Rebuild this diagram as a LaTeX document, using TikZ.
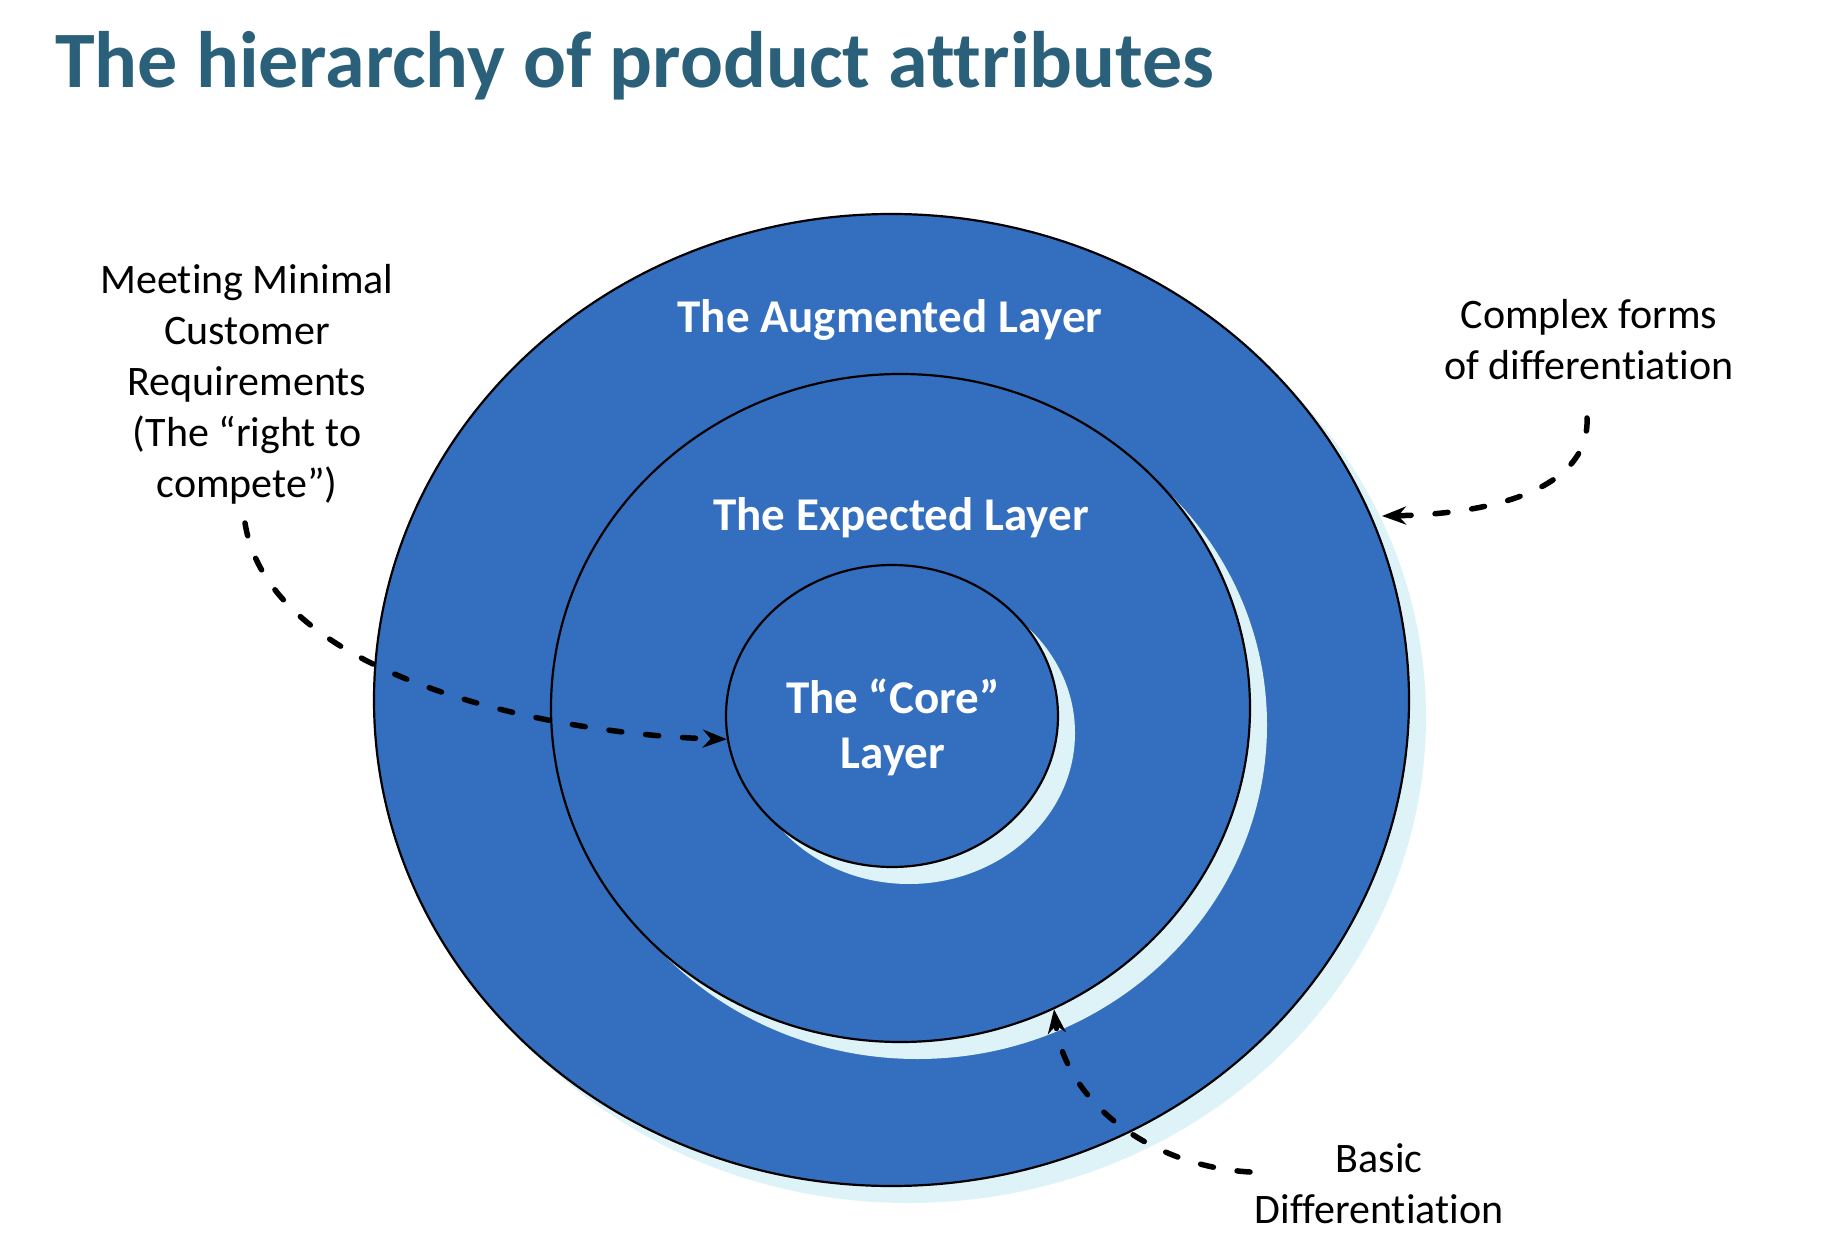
\documentclass[tikz,border=0pt]{standalone}
\usepackage{fontspec}
\setmainfont{Carlito}[Ligatures=NoCommon]
\usetikzlibrary{shapes.geometric,arrows.meta}
\definecolor{layerblue}{RGB}{52,111,191}
\definecolor{shadowcyan}{RGB}{222,243,248}
\definecolor{titleteal}{RGB}{42,96,122}
\begin{document}
\begin{tikzpicture}[x=1pt,y=-1pt,
  layer/.style={ellipse, draw=black, line width=2.2pt, fill=layerblue, inner sep=0pt},
  layershadow/.style={ellipse, fill=shadowcyan, inner sep=0pt},
  layertext/.style={text=white, font=\fontsize{47}{55}\selectfont\bfseries, align=center, anchor=base},
  note/.style={font=\fontsize{42}{51}\selectfont, align=center, anchor=base},
  leader/.style={line width=5.5pt, dash pattern=on 13pt off 24pt, line cap=round,
    -{Stealth[length=24pt,width=18pt]}}]
\useasboundingbox[fill=white] (0,0) rectangle (1832,1246);

% title
\node[anchor=base west, text=titleteal, inner sep=0pt,
  font=\fontsize{80}{90}\selectfont\bfseries] (title) at (55,88) {The hierarchy of product attributes};

% outer layer
\node[layershadow, minimum width=1035pt, minimum height=972pt] (outersh) at (908.5,717) {};
\node[layer, minimum width=1035pt, minimum height=972pt] (outer) at (891.5,700) {};
% middle layer
\node[layershadow, minimum width=699pt, minimum height=668pt] (middlesh) at (917.5,725) {};
\node[layer, minimum width=699pt, minimum height=668pt] (middle) at (900.5,708) {};
% inner layer
\node[layershadow, minimum width=332pt, minimum height=302pt] (innersh) at (909,733) {};
\node[layer, minimum width=332pt, minimum height=302pt] (inner) at (892,716) {};

% layer labels (base = baseline of last line)
\node[layertext] (augtext) at (890,333) {The Augmented Layer};
\node[layertext] (exptext) at (901,530) {The Expected Layer};
\node[layertext] (coretext) at (893,768) {The “Core”\\Layer};

% side notes
\node[note] (minimal) at (247,497) {Meeting Minimal\\Customer\\Requirements\\(The “right to\\compete”)};
\node[note] (complex) at (1589,380) {Complex forms\\of differentiation};
\node[note] (basic) at (1379,1223) {Basic\\Differentiation};

% connector ends
\coordinate (minstart) at (245,523);
\coordinate (cxstart) at (1587,418);
\coordinate (cxtip) at (1382,516);
\coordinate (bstart) at (1250,1172);

\draw[leader] (minstart) .. controls (270,680) and (560,735) .. (inner.188);
\draw[leader] (cxstart) .. controls (1590,490) and (1490,514) .. (cxtip);
\draw[leader] (bstart) .. controls (1148,1166) and (1065,1100) .. (middle.-63);
\end{tikzpicture}
\end{document}
